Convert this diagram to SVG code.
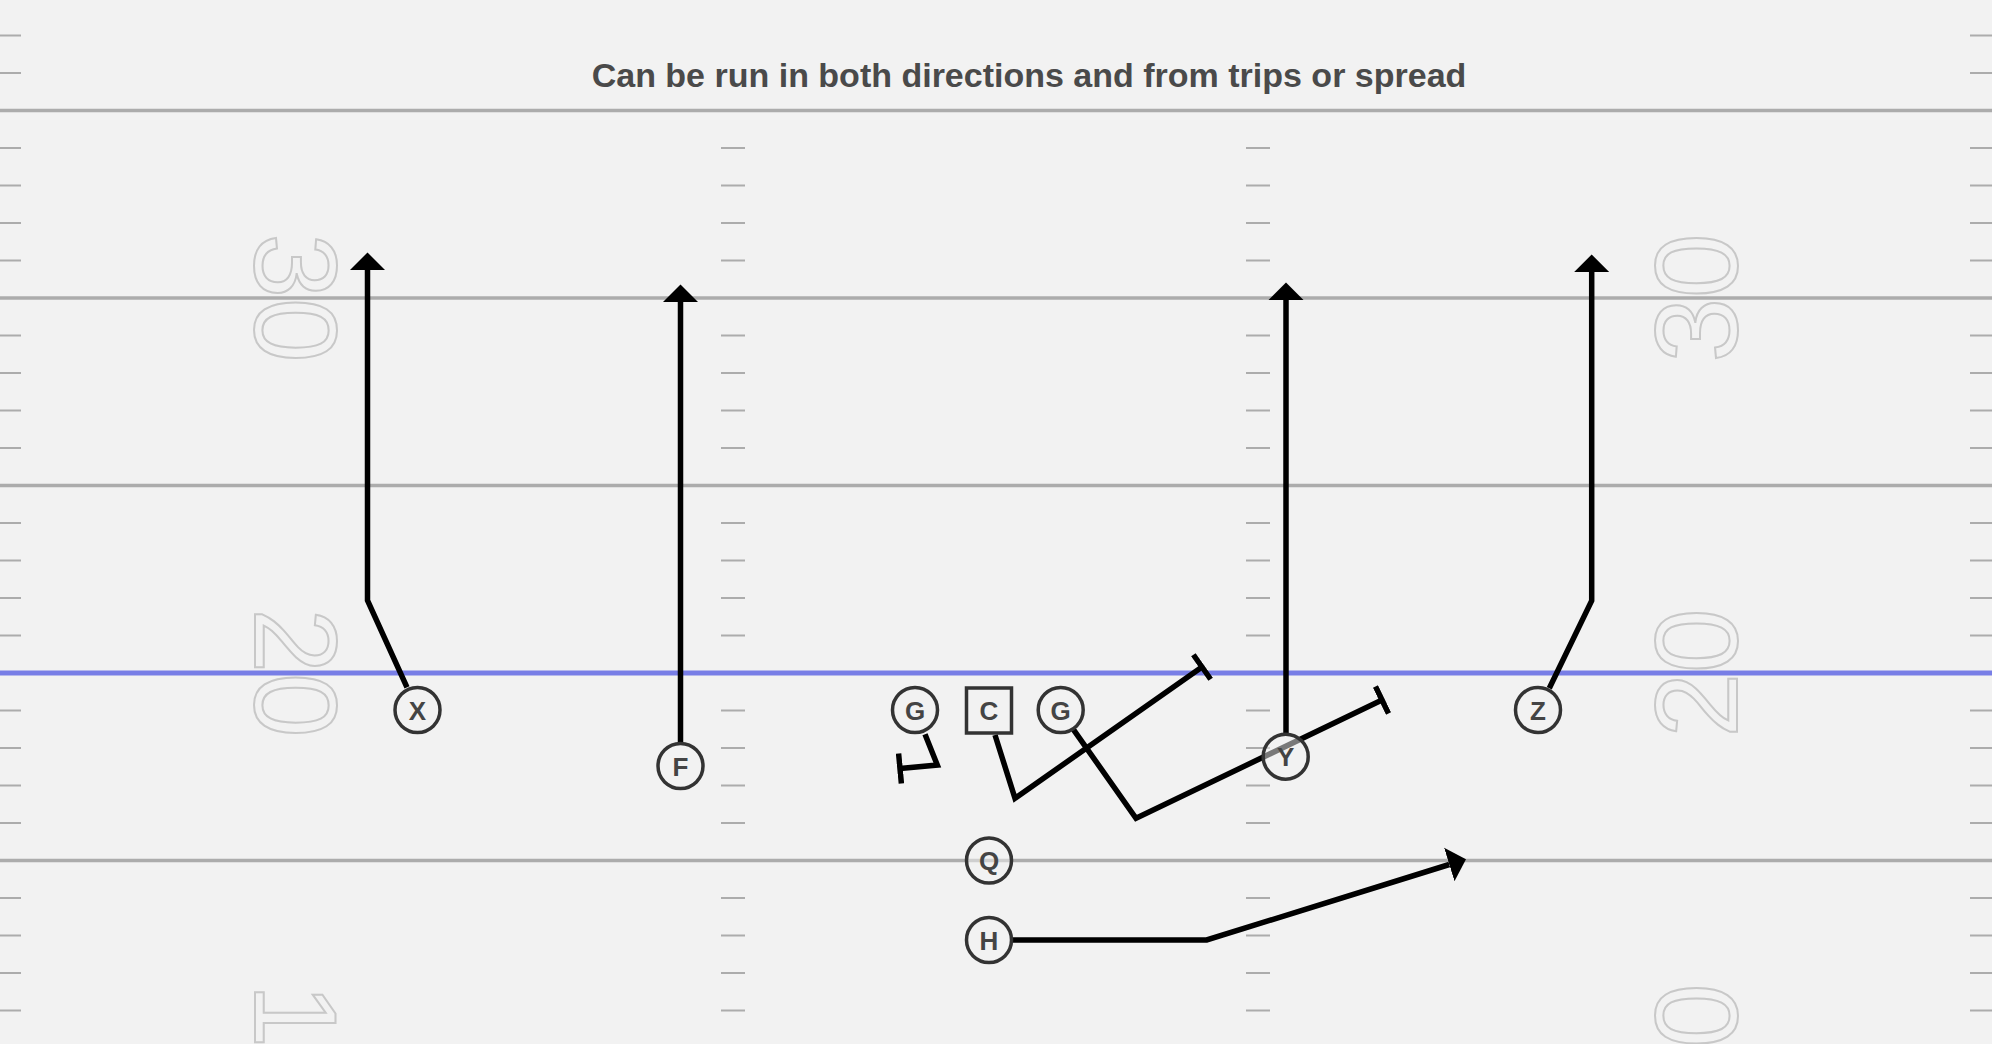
<svg xmlns="http://www.w3.org/2000/svg" xmlns:xlink="http://www.w3.org/1999/xlink" width="1992" height="1044" viewBox="0 0 1992 1044">
  <style>
    .bg { fill: #f2f2f2; }
    .yl { stroke: #acacac; stroke-width: 3.5; fill: none; }
    .los { stroke: #787ee6; stroke-width: 5; fill: none; }
    .tick { stroke: #acacac; stroke-width: 2; fill: none; }
    .yn { font-family: "Liberation Sans", Arial, sans-serif; font-size: 116px; fill: none; stroke: #c8c8c8; stroke-width: 2; text-anchor: middle; }
    .title { font-family: "Liberation Sans", Arial, sans-serif; font-size: 34px; font-weight: bold; fill: #4a4a4a; text-anchor: middle; }
    .route { stroke: #000; stroke-width: 5.5; fill: none; stroke-linejoin: miter; stroke-linecap: butt; }
    .pl { fill: #f2f2f2; fill-opacity: 0.5; stroke: #333; stroke-width: 3.5; }
    .lbl { font-family: "Liberation Sans", Arial, sans-serif; font-size: 26px; font-weight: bold; fill: #444; text-anchor: middle; }
  </style>
  <defs>
    <marker id="arrow" markerUnits="userSpaceOnUse" markerWidth="18" markerHeight="36" viewBox="0 -18 18 36" refX="0" refY="0" orient="auto">
      <path d="M0,-17.5 L17.5,0 L0,17.5 Z" fill="#000"/>
    </marker>
    <marker id="tbar" markerUnits="userSpaceOnUse" markerWidth="6" markerHeight="32" viewBox="-3 -16 6 32" refX="0" refY="0" orient="auto">
      <path d="M0,-15 V15" stroke="#000" stroke-width="5.5" fill="none"/>
    </marker>
    <g id="tickrow">
      <path class="tick" d="M0,0 H21 M721,0 H745 M1246,0 H1270 M1970,0 H1992"/>
    </g>
    <g id="edgerow">
      <path class="tick" d="M0,0 H21 M1970,0 H1992"/>
    </g>
  </defs>

  <rect class="bg" x="0" y="0" width="1992" height="1044"/>

  <g id="field">
    <g id="ticks">
      <use xlink:href="#edgerow" href="#edgerow" y="35.5"/>
      <use xlink:href="#edgerow" href="#edgerow" y="73"/>
      <use xlink:href="#tickrow" href="#tickrow" y="148"/>
      <use xlink:href="#tickrow" href="#tickrow" y="185.5"/>
      <use xlink:href="#tickrow" href="#tickrow" y="223"/>
      <use xlink:href="#tickrow" href="#tickrow" y="260.5"/>
      <use xlink:href="#tickrow" href="#tickrow" y="335.5"/>
      <use xlink:href="#tickrow" href="#tickrow" y="373"/>
      <use xlink:href="#tickrow" href="#tickrow" y="410.5"/>
      <use xlink:href="#tickrow" href="#tickrow" y="448"/>
      <use xlink:href="#tickrow" href="#tickrow" y="523"/>
      <use xlink:href="#tickrow" href="#tickrow" y="560.5"/>
      <use xlink:href="#tickrow" href="#tickrow" y="598"/>
      <use xlink:href="#tickrow" href="#tickrow" y="635.5"/>
      <use xlink:href="#tickrow" href="#tickrow" y="710.5"/>
      <use xlink:href="#tickrow" href="#tickrow" y="748"/>
      <use xlink:href="#tickrow" href="#tickrow" y="785.5"/>
      <use xlink:href="#tickrow" href="#tickrow" y="823"/>
      <use xlink:href="#tickrow" href="#tickrow" y="898"/>
      <use xlink:href="#tickrow" href="#tickrow" y="935.5"/>
      <use xlink:href="#tickrow" href="#tickrow" y="973"/>
      <use xlink:href="#tickrow" href="#tickrow" y="1010.5"/>
    </g>
    <g id="yardlines">
      <line class="yl" x1="0" y1="110.5" x2="1992" y2="110.5"/>
      <line class="yl" x1="0" y1="298" x2="1992" y2="298"/>
      <line class="yl" x1="0" y1="485.5" x2="1992" y2="485.5"/>
      <line class="yl" x1="0" y1="860.5" x2="1992" y2="860.5"/>
      <line class="los" x1="0" y1="673" x2="1992" y2="673"/>
    </g>
    <g id="numbers">
      <text class="yn" transform="translate(255,298) rotate(90)" x="0" y="0">30</text>
      <text class="yn" transform="translate(255,673) rotate(90)" x="0" y="0">20</text>
      <text class="yn" transform="translate(255,1048) rotate(90)" x="0" y="0">10</text>
      <text class="yn" transform="translate(1737,298) rotate(-90)" x="0" y="0">30</text>
      <text class="yn" transform="translate(1737,673) rotate(-90)" x="0" y="0">20</text>
      <text class="yn" transform="translate(1737,1048) rotate(-90)" x="0" y="0">10</text>
    </g>
  </g>

  <text id="title" class="title" x="1029" y="86.7">Can be run in both directions and from trips or spread</text>

  <g id="connectors">
    <path id="route-x" class="route" d="M407,687.3 L367.5,600.5 L367.5,270" marker-end="url(#arrow)"/>
    <path id="route-f" class="route" d="M680.5,743.5 L680.5,302" marker-end="url(#arrow)"/>
    <path id="route-y" class="route" d="M1286,733 L1286,300" marker-end="url(#arrow)"/>
    <path id="route-z" class="route" d="M1549.3,688.3 L1591.7,600.7 L1591.7,272" marker-end="url(#arrow)"/>
    <path id="route-h" class="route" d="M1011.5,940 L1206.7,940 L1449.3,864.5" marker-end="url(#arrow)"/>
    <path id="route-g1" class="route" d="M925,734.3 L937.3,765 L900,768.5" marker-end="url(#tbar)"/>
    <path id="route-c" class="route" d="M995,735 L1015,798.3 L1202,667" marker-end="url(#tbar)"/>
    <path id="route-g2" class="route" d="M1073.3,729.3 L1136,818.3 L1382,700" marker-end="url(#tbar)"/>
  </g>

  <g id="node-x"><circle class="pl" cx="417.5" cy="710" r="22.5"/><text class="lbl" x="417.5" y="719.5">X</text></g>
  <g id="node-f"><circle class="pl" cx="680.5" cy="766" r="22.5"/><text class="lbl" x="680.5" y="775.5">F</text></g>
  <g id="node-g1"><circle class="pl" cx="915" cy="710" r="22.5"/><text class="lbl" x="915" y="719.5">G</text></g>
  <g id="node-c"><rect class="pl" x="966.5" y="688" width="45" height="45"/><text class="lbl" x="989" y="720">C</text></g>
  <g id="node-g2"><circle class="pl" cx="1060.7" cy="710" r="22.5"/><text class="lbl" x="1060.7" y="719.5">G</text></g>
  <g id="node-y"><circle class="pl" cx="1285.7" cy="756.7" r="22.5"/><text class="lbl" x="1285.7" y="766.2">Y</text></g>
  <g id="node-z"><circle class="pl" cx="1538" cy="710" r="22.5"/><text class="lbl" x="1538" y="719.5">Z</text></g>
  <g id="node-q"><circle class="pl" cx="989" cy="860.5" r="22.5"/><text class="lbl" x="989" y="870">Q</text></g>
  <g id="node-h"><circle class="pl" cx="989" cy="940" r="22.5"/><text class="lbl" x="989" y="949.5">H</text></g>
</svg>
